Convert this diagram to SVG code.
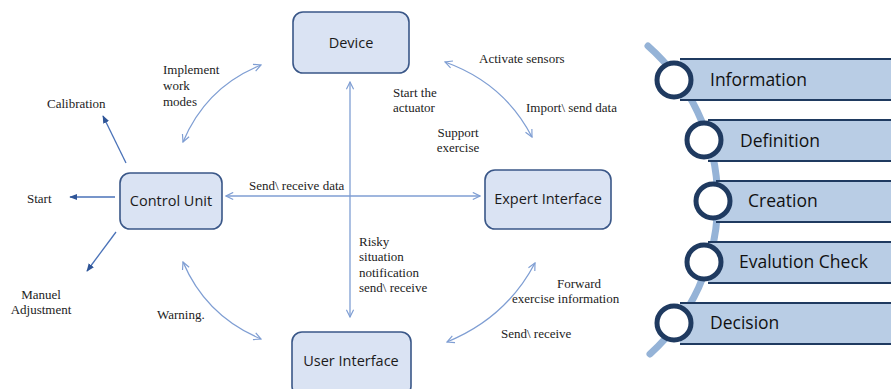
<svg xmlns="http://www.w3.org/2000/svg" width="891" height="389" viewBox="0 0 891 389">
<defs>
<marker id="open" viewBox="0 0 10 10" refX="9" refY="5" markerWidth="9" markerHeight="9" markerUnits="userSpaceOnUse" orient="auto-start-reverse">
<path d="M1,1 L9,5 L1,9" fill="none" stroke="#7F9ED3" stroke-width="1.3"/>
</marker>
<marker id="solid" viewBox="0 0 10 10" refX="9" refY="5" markerWidth="8" markerHeight="8" markerUnits="userSpaceOnUse" orient="auto">
<path d="M0,1 L10,5 L0,9 Z" fill="#2F5597"/>
</marker>
<style>
.box{fill:#DAE3F3;stroke:#3A5788;stroke-width:1.6}
.bt{font-family:"Open Sans","Noto Sans",sans-serif;font-size:14.5px;fill:#1a1a1a;text-anchor:middle}
.lbl{font-family:"Liberation Serif",serif;font-size:13px;fill:#222}
.con{fill:none;stroke:#7F9ED3;stroke-width:1.3}
.dk{fill:none;stroke:#4A72B8;stroke-width:1.3}
.bar{fill:#B9CDE5}
.edge{stroke:#1F3A60;stroke-width:2.2}
.ring{fill:#fff;stroke:#1F3A60;stroke-width:5}
.st{font-family:"Open Sans","Noto Sans",sans-serif;font-size:17.5px;fill:#111}
</style>
</defs>
<rect width="891" height="389" fill="#fff"/>

<g id="connectors">
<line class="con" x1="226" y1="196" x2="480" y2="196" marker-start="url(#open)" marker-end="url(#open)"/>
<line class="con" x1="350" y1="82" x2="350" y2="317" marker-start="url(#open)" marker-end="url(#open)"/>
<path class="con" d="M183,142 Q206,87 261,65" marker-start="url(#open)" marker-end="url(#open)"/>
<path class="con" d="M445,62 Q504,83 532,137" marker-start="url(#open)" marker-end="url(#open)"/>
<path class="con" d="M183,262 Q206,316 261,339" marker-start="url(#open)" marker-end="url(#open)"/>
<path class="con" d="M447,342 Q506,318 535,263" marker-start="url(#open)" marker-end="url(#open)"/>
<line class="dk" x1="126" y1="163" x2="103" y2="116" marker-end="url(#solid)"/>
<line class="dk" x1="115" y1="197" x2="70" y2="197" marker-end="url(#solid)"/>
<line class="dk" x1="116" y1="232" x2="87" y2="271" marker-end="url(#solid)"/>
</g>

<g id="device"><rect class="box" x="293" y="12" width="116" height="61" rx="10"/><text class="bt" x="351" y="48">Device</text></g>
<g id="control-unit"><rect class="box" x="120" y="173" width="102" height="56" rx="10"/><text class="bt" x="171" y="206">Control Unit</text></g>
<g id="expert-interface"><rect class="box" x="485" y="170" width="126" height="59" rx="10"/><text class="bt" x="548" y="204">Expert Interface</text></g>
<g id="user-interface"><rect class="box" x="292" y="332" width="119" height="64" rx="10"/><text class="bt" x="351" y="366">User Interface</text></g>

<g id="labels" class="lbl">
<text x="163" y="74">Implement</text>
<text x="163" y="90">work</text>
<text x="163" y="106">modes</text>
<text x="47" y="108">Calibration</text>
<text x="27" y="203">Start</text>
<text x="41" y="299" text-anchor="middle">Manuel</text>
<text x="41" y="314" text-anchor="middle">Adjustment</text>
<text x="157" y="319">Warning.</text>
<text x="249" y="190">Send\ receive data</text>
<text x="479" y="63">Activate sensors</text>
<text x="393" y="97">Start the</text>
<text x="393" y="112">actuator</text>
<text x="526" y="112">Import\ send data</text>
<text x="458" y="137" text-anchor="middle">Support</text>
<text x="458" y="152" text-anchor="middle">exercise</text>
<text x="359" y="246">Risky</text>
<text x="359" y="261">situation</text>
<text x="359" y="277">notification</text>
<text x="359" y="292">send\ receive</text>
<text x="557" y="288">Forward</text>
<text x="512" y="303">exercise information</text>
<text x="501" y="338">Send\ receive</text>
</g>

<g id="process">
<path d="M648,46 A207 207 0 0 1 650,354" fill="none" stroke="#95B3D7" stroke-width="7" stroke-linecap="round"/>
<g id="step-information">
<rect class="bar" x="680" y="59" width="215" height="41"/>
<line class="edge" x1="680" y1="59" x2="895" y2="59"/><line class="edge" x1="680" y1="100" x2="895" y2="100"/>
<circle class="ring" cx="674" cy="80" r="17"/>
<text class="st" x="710" y="86">Information</text>
</g>
<g id="step-definition">
<rect class="bar" x="708" y="120" width="187" height="41"/>
<line class="edge" x1="708" y1="120" x2="895" y2="120"/><line class="edge" x1="708" y1="161" x2="895" y2="161"/>
<circle class="ring" cx="704" cy="140" r="17"/>
<text class="st" x="740" y="147">Definition</text>
</g>
<g id="step-creation">
<rect class="bar" x="716" y="181" width="179" height="41"/>
<line class="edge" x1="716" y1="181" x2="895" y2="181"/><line class="edge" x1="716" y1="222" x2="895" y2="222"/>
<circle class="ring" cx="713" cy="201" r="17"/>
<text class="st" x="748" y="207">Creation</text>
</g>
<g id="step-evaluation">
<rect class="bar" x="708" y="242" width="187" height="41"/>
<line class="edge" x1="708" y1="242" x2="895" y2="242"/><line class="edge" x1="708" y1="283" x2="895" y2="283"/>
<circle class="ring" cx="704" cy="262" r="17"/>
<text class="st" x="739" y="268">Evalution Check</text>
</g>
<g id="step-decision">
<rect class="bar" x="680" y="303" width="215" height="41"/>
<line class="edge" x1="680" y1="303" x2="895" y2="303"/><line class="edge" x1="680" y1="344" x2="895" y2="344"/>
<circle class="ring" cx="674" cy="323" r="17"/>
<text class="st" x="710" y="329">Decision</text>
</g>
</g>
</svg>
